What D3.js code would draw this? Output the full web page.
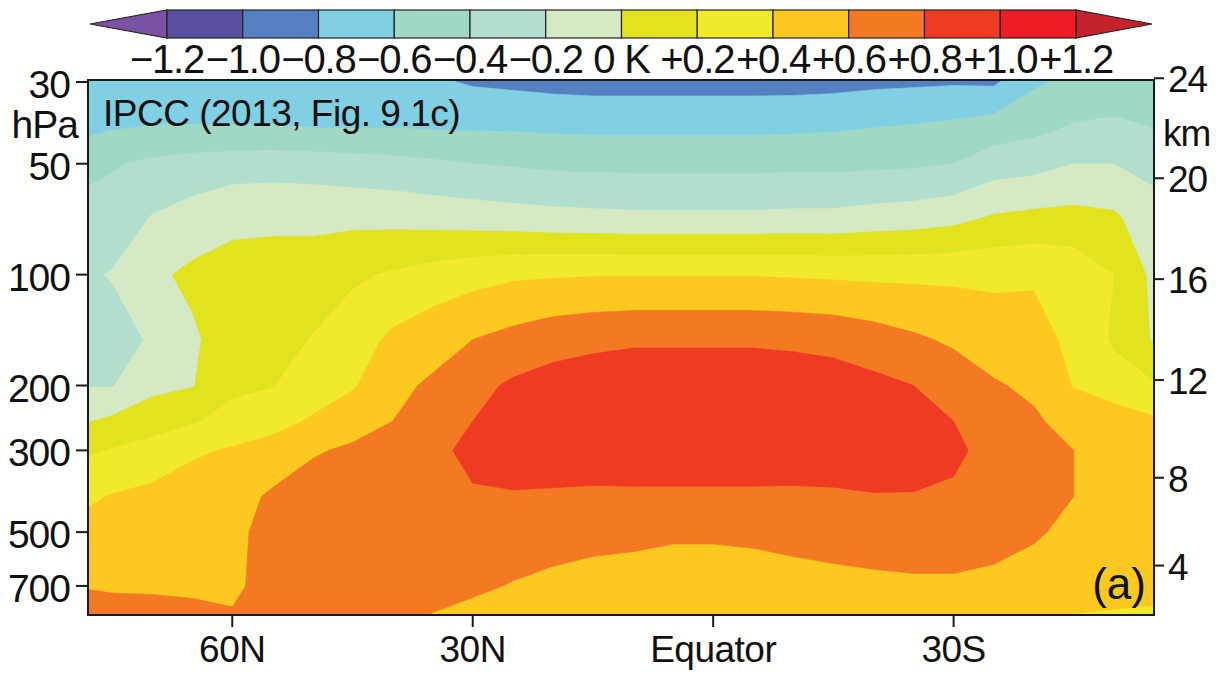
<!DOCTYPE html>
<html>
<head>
<meta charset="utf-8">
<script src="https://cdn.jsdelivr.net/npm/d3@7"></script>
<style>
html,body{margin:0;padding:0;background:#ffffff;}
svg{display:block;}
text{font-family:"Liberation Sans",Arial,Helvetica,sans-serif;fill:#111;}
</style>
</head>
<body>
<svg id="chart" width="1223" height="673"></svg>
<script>
// ---------------- data ----------------
const latitudes = [80,75,70,65,60,55,50,45,40,35,30,25,20,15,10,5,0,-5,-10,-15,-20,-25,-30,-35,-40,-45,-50,-55];
const levels = [30,40,50,70,100,150,200,250,300,400,500,700,850]; // hPa

// temperature trend (K) at each level, by latitude (80N ... 55S)
const trend30  = [-0.75,-0.72,-0.72,-0.72,-0.72,-0.72,-0.72,-0.73,-0.74,-0.77,-0.82,-0.84,-0.86,-0.87,-0.87,-0.87,-0.87,-0.87,-0.87,-0.86,-0.84,-0.83,-0.82,-0.83,-0.63,-0.55,-0.52,-0.50];
const trend40  = [-0.63,-0.61,-0.59,-0.59,-0.59,-0.59,-0.60,-0.60,-0.60,-0.61,-0.62,-0.62,-0.63,-0.64,-0.64,-0.64,-0.64,-0.64,-0.63,-0.62,-0.60,-0.58,-0.55,-0.50,-0.45,-0.38,-0.36,-0.40];
const trend50  = [-0.55,-0.42,-0.36,-0.32,-0.30,-0.29,-0.30,-0.32,-0.34,-0.37,-0.40,-0.42,-0.44,-0.45,-0.45,-0.45,-0.45,-0.45,-0.45,-0.45,-0.44,-0.43,-0.40,-0.30,-0.27,-0.20,-0.20,-0.26];
const trend70  = [-0.30,-0.30,-0.19,-0.12,-0.04,-0.04,-0.04,-0.05,-0.06,-0.08,-0.10,-0.12,-0.14,-0.15,-0.16,-0.16,-0.16,-0.16,-0.15,-0.15,-0.12,-0.10,-0.06,0.02,0.05,0.06,0.03,-0.12];
const trend100 = [-0.24,-0.19,-0.04,0.04,0.06,0.08,0.08,0.17,0.22,0.28,0.33,0.37,0.38,0.39,0.39,0.39,0.39,0.39,0.38,0.37,0.36,0.36,0.36,0.36,0.38,0.33,0.20,-0.05];
const trend150 = [-0.22,-0.27,-0.18,-0.03,0.10,0.12,0.21,0.30,0.44,0.52,0.60,0.66,0.72,0.75,0.77,0.77,0.77,0.77,0.76,0.74,0.69,0.63,0.57,0.50,0.46,0.36,0.17,-0.02];
const trend200 = [-0.21,-0.21,-0.05,-0.01,0.16,0.19,0.31,0.38,0.55,0.63,0.74,0.83,0.88,0.91,0.93,0.93,0.93,0.93,0.91,0.89,0.85,0.80,0.71,0.62,0.56,0.39,0.30,0.22];
const trend250 = [-0.04,0.04,0.11,0.18,0.27,0.34,0.42,0.52,0.60,0.70,0.80,0.89,0.92,0.94,0.95,0.95,0.95,0.95,0.94,0.92,0.89,0.86,0.80,0.68,0.63,0.52,0.50,0.43];
const trend300 = [0.15,0.21,0.28,0.37,0.42,0.47,0.58,0.63,0.67,0.75,0.85,0.92,0.93,0.93,0.94,0.94,0.94,0.94,0.93,0.92,0.91,0.89,0.84,0.73,0.67,0.60,0.50,0.47];
const trend400 = [0.35,0.41,0.45,0.50,0.52,0.63,0.69,0.70,0.72,0.76,0.78,0.78,0.77,0.76,0.76,0.76,0.76,0.76,0.76,0.77,0.79,0.79,0.77,0.73,0.66,0.60,0.52,0.50];
const trend500 = [0.43,0.48,0.52,0.55,0.55,0.67,0.70,0.72,0.73,0.72,0.72,0.70,0.67,0.65,0.64,0.62,0.62,0.63,0.65,0.67,0.69,0.70,0.70,0.66,0.62,0.56,0.51,0.50];
const trend700 = [0.59,0.57,0.57,0.58,0.58,0.64,0.68,0.70,0.70,0.66,0.63,0.59,0.56,0.54,0.53,0.53,0.53,0.53,0.54,0.55,0.56,0.57,0.57,0.56,0.53,0.48,0.46,0.45];
const trend850 = [0.90,0.70,0.68,0.63,0.61,0.64,0.66,0.66,0.65,0.59,0.55,0.52,0.49,0.48,0.48,0.48,0.48,0.48,0.48,0.48,0.50,0.50,0.50,0.50,0.47,0.39,0.38,0.37];

const contourLevels = [-1.2,-1.0,-0.8,-0.6,-0.4,-0.2,0,0.2,0.4,0.6,0.8,1.0,1.2];
const bandColors = ["#5a50a1","#5580c1","#80cfe3","#9fd9c4","#b2dfcd","#d4e9c4",
                    "#e0e31d","#f0e92c","#fdc920","#f37a22","#ef3a24","#ec1d25"];
const lowColor = "#7a52a3";
const highColor = "#c5222b";
const colorbarLabels = ["\u22121.2","\u22121.0","\u22120.8","\u22120.6","\u22120.4","\u22120.2","0 K",
                        "+0.2","+0.4","+0.6","+0.8","+1.0","+1.2"];

const pressureTicks = [30,50,100,200,300,500,700];
const heightTicks = [4,8,12,16,20,24];
const latTicks = [60,30,0,-30];
const latTickLabels = ["60N","30N","Equator","30S"];

// ---------------- layout ----------------
const svg = d3.select("#chart");
const plot = {left:88, right:1154, top:80, bottom:615};

const x = d3.scaleLinear().domain([78,-55]).range([plot.left, plot.right]);
const y = d3.scaleLog().domain([30,850]).range([82,617]);

// standard atmosphere: height (km) -> pressure (hPa)
function stdPressure(hkm){
  const h = hkm*1000;
  if (h <= 11000) return 1013.25*Math.pow(1 - 2.25577e-5*h, 5.25588);
  if (h <= 20000) return 226.32*Math.exp(-(h-11000)/6341.62);
  return 54.749*Math.pow(1 + (h-20000)/216650, -34.1632);
}

// ---------------- contours ----------------
const trendRows = [trend30,trend40,trend50,trend70,trend100,trend150,trend200,trend250,trend300,trend400,trend500,trend700,trend850];
const n = latitudes.length, m = levels.length;
const values = [];
trendRows.forEach(row => row.forEach(v => values.push(v)));

const latStep = latitudes[1]-latitudes[0];
const levelY = levels.map(p => y(p));
const gx = c => x(latitudes[0] + (c-0.5)*latStep);
const gy = c => {
  const t = c-0.5;
  const j = Math.max(0, Math.min(m-2, Math.floor(t)));
  return levelY[j] + (t-j)*(levelY[j+1]-levelY[j]);
};
const path = d3.geoPath(d3.geoTransform({
  point(px,py){ this.stream.point(gx(px), gy(py)); }
}));

svg.append("clipPath").attr("id","plotclip")
  .append("rect").attr("x",plot.left).attr("y",plot.top)
  .attr("width",plot.right-plot.left).attr("height",plot.bottom-plot.top);

const gPlot = svg.append("g").attr("clip-path","url(#plotclip)");
gPlot.append("rect").attr("x",plot.left).attr("y",plot.top)
  .attr("width",plot.right-plot.left).attr("height",plot.bottom-plot.top)
  .attr("fill",lowColor);

const contours = d3.contours().size([n,m]).thresholds(contourLevels)(values);
gPlot.selectAll("path.band").data(contours).join("path")
  .attr("class","band")
  .attr("d",path)
  .attr("fill",(d,i) => i < bandColors.length ? bandColors[i] : highColor)
  .attr("stroke",(d,i) => i < bandColors.length ? bandColors[i] : highColor)
  .attr("stroke-width",0.6);

// frame
svg.append("rect").attr("x",plot.left).attr("y",plot.top)
  .attr("width",plot.right-plot.left).attr("height",plot.bottom-plot.top)
  .attr("fill","none").attr("stroke","#1a1a1a").attr("stroke-width",2);

// ---------------- axes ----------------
const fs = 37;
// left pressure axis
const gL = svg.append("g");
pressureTicks.forEach(p => {
  const yy = y(p);
  gL.append("line").attr("x1",76).attr("x2",plot.left).attr("y1",yy).attr("y2",yy)
    .attr("stroke","#1a1a1a").attr("stroke-width",2);
  gL.append("text").attr("x",70).attr("y",yy+16).attr("text-anchor","end")
    .attr("font-size",39).attr("letter-spacing",-1).text(p);
});
gL.append("text").attr("x",78).attr("y",138).attr("text-anchor","end")
  .attr("font-size",39).attr("letter-spacing",-1).text("hPa");

// right height axis
const gR = svg.append("g");
heightTicks.forEach(h => {
  const yy = y(stdPressure(h));
  gR.append("line").attr("x1",plot.right).attr("x2",1164).attr("y1",yy).attr("y2",yy)
    .attr("stroke","#1a1a1a").attr("stroke-width",2);
  gR.append("text").attr("x",1168).attr("y",yy+14).attr("text-anchor","start")
    .attr("font-size",fs).attr("letter-spacing",-1).text(h);
});
gR.append("text").attr("x",1163).attr("y",146).attr("text-anchor","start")
  .attr("font-size",fs).attr("letter-spacing",-1).text("km");

// bottom latitude axis
const gB = svg.append("g");
latTicks.forEach((lat,i) => {
  const xx = x(lat);
  gB.append("line").attr("x1",xx).attr("x2",xx).attr("y1",plot.bottom).attr("y2",627)
    .attr("stroke","#1a1a1a").attr("stroke-width",2);
  gB.append("text").attr("x",xx).attr("y",662).attr("text-anchor","middle")
    .attr("font-size",fs).attr("letter-spacing",-0.5).text(latTickLabels[i]);
});

// annotations
svg.append("text").attr("x",103).attr("y",126).attr("font-size",37)
  .attr("letter-spacing",-0.5).text("IPCC (2013, Fig. 9.1c)");
svg.append("text").attr("x",1146).attr("y",599).attr("text-anchor","end")
  .attr("font-size",44).text("(a)");

// ---------------- colour bar ----------------
const cb = d3.scaleLinear().domain([contourLevels[0], contourLevels[contourLevels.length-1]]).range([167,1076]);
const cbTop = 10, cbBot = 38, cbMid = (cbTop+cbBot)/2;
const gC = svg.append("g");
gC.append("polygon")
  .attr("points",`${cb(contourLevels[0])},${cbTop} ${cb(contourLevels[0])},${cbBot} 90,${cbMid}`)
  .attr("fill",lowColor).attr("stroke","#222").attr("stroke-width",1.2);
gC.append("polygon")
  .attr("points",`${cb(contourLevels[contourLevels.length-1])},${cbTop} ${cb(contourLevels[contourLevels.length-1])},${cbBot} 1152,${cbMid}`)
  .attr("fill",highColor).attr("stroke","#222").attr("stroke-width",1.2);
bandColors.forEach((c,i) => {
  gC.append("rect").attr("x",cb(contourLevels[i])).attr("y",cbTop)
    .attr("width",cb(contourLevels[i+1])-cb(contourLevels[i])).attr("height",cbBot-cbTop)
    .attr("fill",c).attr("stroke","#222").attr("stroke-width",1.2);
});
contourLevels.forEach((v,i) => {
  gC.append("text").attr("x",cb(v)).attr("y",73).attr("text-anchor","middle")
    .attr("font-size",40).attr("letter-spacing",-1.2).text(colorbarLabels[i]);
});
</script>
</body>
</html>
